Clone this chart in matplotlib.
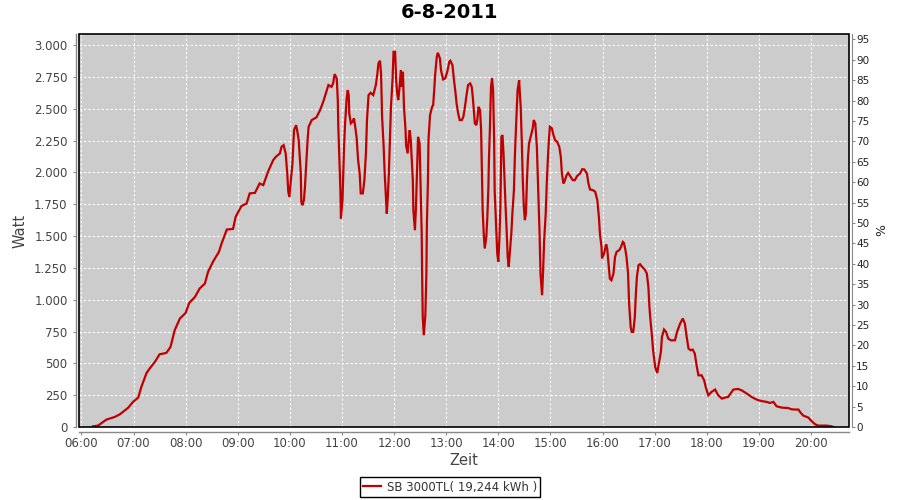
import matplotlib
matplotlib.use("Agg")
import matplotlib.pyplot as plt
from matplotlib.patches import Rectangle
from matplotlib.lines import Line2D
from matplotlib.ticker import FuncFormatter, MultipleLocator

title = "6-8-2011"
series_label = "SB 3000TL( 19,244 kWh )"
x_label = "Zeit"
y_label = "Watt"
y2_label = "%"
hour_ticks = list(range(6, 21))

# time of day (decimal hours)
times = [
    6.22, 6.32, 6.48, 6.64, 6.74, 6.90, 6.99, 7.09, 7.15, 7.25, 7.31, 7.41, 7.50, 7.63,
    7.71, 7.79, 7.89, 8.00, 8.07, 8.18, 8.27, 8.37, 8.43, 8.53, 8.64, 8.69, 8.79, 8.91,
    8.96, 9.07, 9.17, 9.23, 9.33, 9.42, 9.49, 9.58, 9.68, 9.73, 9.81, 9.84, 9.88, 9.92,
    9.95, 9.97, 9.99, 10.02, 10.05, 10.08, 10.12, 10.14, 10.17, 10.21, 10.22, 10.24,
    10.27, 10.29, 10.32, 10.34, 10.36, 10.42, 10.51, 10.58, 10.64, 10.69, 10.74, 10.80,
    10.83, 10.86, 10.90, 10.92, 10.93, 10.95, 10.97, 10.98, 11.01, 11.04, 11.06, 11.09,
    11.11, 11.13, 11.14, 11.17, 11.20, 11.23, 11.25, 11.28, 11.31, 11.34, 11.36, 11.40,
    11.43, 11.46, 11.48, 11.51, 11.55, 11.60, 11.65, 11.68, 11.70, 11.73, 11.75, 11.77,
    11.80, 11.82, 11.84, 11.86, 11.88, 11.90, 11.92, 11.94, 11.97, 11.99, 12.02, 12.04,
    12.06, 12.08, 12.10, 12.13, 12.15, 12.17, 12.19, 12.22, 12.23, 12.26, 12.28, 12.30,
    12.32, 12.34, 12.36, 12.37, 12.40, 12.42, 12.44, 12.46, 12.49, 12.51, 12.53, 12.54,
    12.55, 12.57, 12.60, 12.62, 12.63, 12.65, 12.66, 12.69, 12.73, 12.75, 12.77, 12.79,
    12.82, 12.84, 12.88, 12.90, 12.94, 12.98, 13.02, 13.06, 13.08, 13.12, 13.15, 13.18,
    13.20, 13.23, 13.26, 13.30, 13.33, 13.36, 13.39, 13.42, 13.46, 13.49, 13.51, 13.53,
    13.55, 13.58, 13.60, 13.62, 13.65, 13.67, 13.69, 13.70, 13.72, 13.74, 13.77, 13.79,
    13.81, 13.82, 13.84, 13.86, 13.88, 13.90, 13.92, 13.93, 13.96, 13.98, 14.00, 14.02,
    14.04, 14.05, 14.06, 14.08, 14.10, 14.12, 14.14, 14.16, 14.18, 14.20, 14.22, 14.25,
    14.27, 14.30, 14.32, 14.34, 14.37, 14.40, 14.41, 14.43, 14.45, 14.47, 14.49, 14.51,
    14.53, 14.55, 14.57, 14.59, 14.63, 14.66, 14.68, 14.71, 14.74, 14.76, 14.79, 14.81,
    14.84, 14.86, 14.88, 14.91, 14.93, 14.95, 14.97, 14.99, 15.03, 15.05, 15.09, 15.13,
    15.17, 15.20, 15.22, 15.25, 15.28, 15.31, 15.34, 15.39, 15.43, 15.47, 15.51, 15.57,
    15.61, 15.65, 15.70, 15.73, 15.76, 15.82, 15.86, 15.90, 15.93, 15.95, 15.98, 15.99,
    16.03, 16.07, 16.09, 16.12, 16.14, 16.17, 16.21, 16.24, 16.27, 16.32, 16.35, 16.39,
    16.41, 16.44, 16.46, 16.49, 16.51, 16.54, 16.56, 16.59, 16.62, 16.64, 16.66, 16.69,
    16.72, 16.76, 16.81, 16.85, 16.88, 16.90, 16.92, 16.95, 16.97, 17.01, 17.05, 17.08,
    17.12, 17.14, 17.18, 17.22, 17.26, 17.31, 17.39, 17.43, 17.49, 17.54, 17.58, 17.61,
    17.65, 17.69, 17.73, 17.77, 17.81, 17.84, 17.90, 17.95, 17.98, 18.03, 18.09, 18.16,
    18.22, 18.29, 18.35, 18.41, 18.51, 18.60, 18.67, 18.77, 18.86, 18.96, 19.05, 19.15,
    19.21, 19.28, 19.34, 19.44, 19.56, 19.63, 19.69, 19.76, 19.79, 19.85, 19.95, 20.01,
    20.08, 20.14, 20.30, 20.40, 20.43,
]

# AC power (W)
watts = [
    5, 11, 58, 79, 100, 152, 197, 231, 314, 424, 459, 511, 571, 582,
    629, 760, 852, 896, 975, 1022, 1088, 1127, 1218, 1302, 1376, 1441, 1551, 1556,
    1651, 1735, 1756, 1835, 1839, 1913, 1900, 2004, 2096, 2122, 2149, 2201, 2214, 2149,
    1992, 1847, 1808, 1939, 2070, 2332, 2371, 2332, 2253, 1992, 1768, 1742,
    1782, 1886, 2110, 2253, 2358, 2411, 2432, 2489, 2554, 2620, 2686, 2672,
    2699, 2772, 2738, 2568, 2358, 2096, 1860, 1638, 1782, 2201, 2385, 2581,
    2646, 2607, 2463, 2385, 2397, 2424, 2371, 2279, 2096, 1992, 1835, 1835,
    1939, 2149, 2411, 2607, 2625, 2607, 2686, 2777, 2856, 2877, 2777, 2437,
    2201, 1992, 1835, 1677, 1808, 1992, 2253, 2515, 2725, 2947, 2947, 2725,
    2620, 2568, 2646, 2804, 2672, 2790, 2515, 2332, 2214, 2149, 2253, 2332,
    2253, 2096, 1939, 1703, 1546, 1729, 1992, 2279, 2227, 1860, 1520, 1153,
    865, 721, 878, 1206, 1599, 1939, 2253, 2450, 2515, 2528, 2646, 2777,
    2908, 2940, 2895, 2804, 2730, 2738, 2790, 2869, 2877, 2843, 2725, 2620,
    2541, 2463, 2411, 2411, 2437, 2515, 2607, 2686, 2699, 2672, 2594, 2489,
    2385, 2371, 2424, 2515, 2489, 2332, 1939, 1703, 1520, 1402, 1494, 1651,
    1886, 2096, 2358, 2672, 2738, 2646, 2253, 1860, 1572, 1363, 1297, 1467,
    1729, 1992, 2279, 2293, 2149, 1939, 1729, 1546, 1336, 1258, 1363, 1520,
    1677, 1860, 2149, 2358, 2646, 2725, 2646, 2515, 2253, 1939, 1729, 1625,
    1677, 1939, 2122, 2227, 2293, 2345, 2411, 2385, 2201, 1939, 1546, 1206,
    1035, 1232, 1467, 1677, 1913, 2096, 2253, 2358, 2345, 2306, 2253, 2240,
    2201, 2122, 1992, 1913, 1939, 1978, 1996, 1965, 1939, 1939, 1970, 1992,
    2025, 2023, 1992, 1913, 1866, 1860, 1847, 1782, 1651, 1520, 1415, 1324,
    1363, 1436, 1402, 1258, 1166, 1153, 1206, 1336, 1376, 1389, 1410, 1454,
    1446, 1389, 1336, 1206, 970, 786, 747, 747, 865, 1049, 1179, 1271,
    1279, 1258, 1237, 1206, 1100, 943, 839, 707, 603, 472, 424, 498,
    590, 707, 766, 747, 695, 681, 681, 747, 813, 852, 813, 721,
    616, 603, 608, 577, 472, 406, 406, 367, 314, 249, 275, 294,
    249, 223, 231, 236, 294, 299, 288, 262, 236, 215, 204, 197,
    189, 197, 163, 152, 149, 139, 137, 137, 118, 90, 74, 47,
    21, 11, 11, 5, 0,
]

W, H, DPI = 900, 500, 100
fig = plt.figure(figsize=(W / DPI, H / DPI), dpi=DPI, facecolor="white")
L, R, T, B = 79, 848.5, 34, 427
ax = fig.add_axes([L / W, 1 - B / H, (R - L) / W, (B - T) / H])
ax.set_facecolor("#cccccc")

line_color = "#c00000"
ax.plot(times, watts, color=line_color, lw=1.6, solid_joinstyle="miter", zorder=3)

ax.set_xlim(5.954, 20.72)
ax.set_ylim(0, 3087)
ax.set_xticks(hour_ticks)
ax.xaxis.set_major_formatter(FuncFormatter(lambda v, p: f"{int(round(v)):02d}:00"))
ax.yaxis.set_major_locator(MultipleLocator(250))
ax.yaxis.set_major_formatter(FuncFormatter(lambda v, p: f"{v:,.0f}".replace(",", ".")))
ax.grid(True, color="white", linestyle=(0, (2, 2)), linewidth=0.8)
ax.set_axisbelow(True)

txt = "#444444"
axis_gray = "#888888"
for s in ["top", "right"]:
    ax.spines[s].set_visible(False)
ax.spines["left"].set_position(("outward", 2.2))
ax.spines["bottom"].set_position(("outward", 3.6))
for s in ["left", "bottom"]:
    ax.spines[s].set_color(axis_gray)
    ax.spines[s].set_linewidth(1)
ax.tick_params(axis="y", length=2, color=axis_gray, labelcolor=txt, labelsize=8.5, pad=4)
ax.tick_params(axis="x", length=2, color=axis_gray, labelcolor=txt, labelsize=8.5, pad=1.5)

ax2 = ax.twinx()
ax2.set_ylim(0, 96.3)
ax2.yaxis.set_major_locator(MultipleLocator(5))
for s in ["top", "left", "bottom"]:
    ax2.spines[s].set_visible(False)
ax2.spines["right"].set_position(("outward", 2.5))
ax2.spines["right"].set_color(axis_gray)
ax2.tick_params(axis="y", length=2, color=axis_gray, labelcolor="#222222", labelsize=7.5, pad=1)

ax.add_patch(Rectangle((0, 0), 1, 1, transform=ax.transAxes, fill=False,
                       ec="black", lw=1.2, zorder=5, clip_on=False))

ax.set_ylabel(y_label, fontsize=10.5, color=txt)
ax.yaxis.set_label_coords(-0.0767, 0.5)
ax.yaxis.label.set_va("center")
ax.set_xlabel(x_label, fontsize=10.5, color=txt)
ax.xaxis.set_label_coords(0.5, -0.084)
ax.xaxis.label.set_va("center")
ax2.set_ylabel(y2_label, fontsize=9, color="#222222")
ax2.yaxis.set_label_coords(1.0435, 0.5)
ax2.yaxis.label.set_va("center")

fig.text(0.5, 1 - 13 / H, title, ha="center", va="center", fontsize=14,
         fontweight="bold", color="black")

handle = Line2D([], [], color=line_color, lw=1.6)
leg = fig.legend([handle], [series_label], loc="center", bbox_to_anchor=(0.5, 1 - 487 / H),
                 fontsize=8.5, frameon=True, fancybox=False, framealpha=1,
                 edgecolor="black", handlelength=1.5, handletextpad=0.5,
                 borderpad=0.3, labelcolor="#333333")
leg.get_frame().set_linewidth(1)

fig.savefig("out.png", dpi=DPI, facecolor="white")
